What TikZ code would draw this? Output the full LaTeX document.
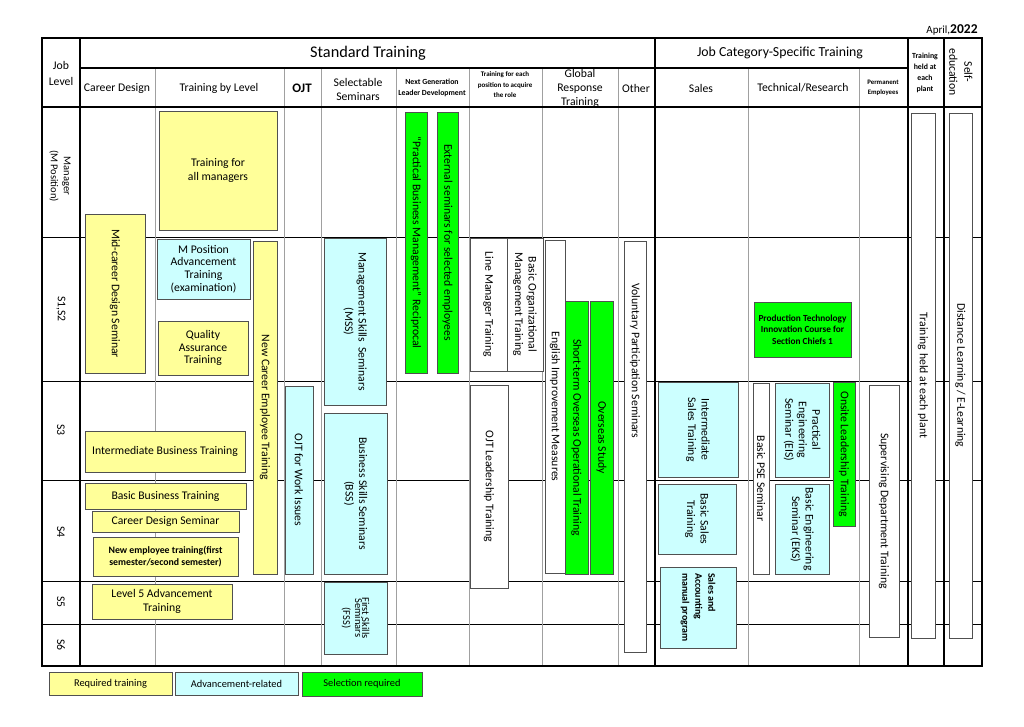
\documentclass[tikz,border=0pt]{standalone}
\usepackage{fontspec}
\setmainfont{Carlito}
\definecolor{reqfill}{HTML}{FFFF99}
\definecolor{advfill}{HTML}{CCFFFF}
\definecolor{selfill}{HTML}{00FF00}
\definecolor{gridgray}{HTML}{A0A0A0}
\definecolor{boxline}{HTML}{505050}
\begin{document}
\begin{tikzpicture}
    [x=1pt,y=-1pt,
     every node/.style={font=\fontsize{11.7}{13.5}\selectfont,inner sep=1pt,align=center},
     hbox/.style 2 args={draw=boxline,line width=.8pt,minimum width=#1,minimum height=#2},
     vbox/.style 2 args={draw=boxline,line width=.8pt,rotate=-90,minimum width=#2,minimum height=#1},
     req/.style={fill=reqfill},
     adv/.style={fill=advfill},
     sel/.style={fill=selfill},
     open/.style={fill=white},
     frame/.style={line width=1.5pt},
     rowline/.style={line width=1pt},
     gridline/.style={gridgray,line width=1pt}]
    \useasboundingbox (0,0) rectangle (1024,726);
    % grid
    \foreach \y in {237,381,480,581,624}
      \draw[rowline] (42,\y) -- (982,\y);
    \foreach \x in {155,284,321,396,469,542,618,748,859}
      \draw[gridline] (\x,68) -- (\x,666);
    \foreach \x in {80,655,908,944}
      \draw[frame] (\x,38) -- (\x,666);
    \draw[frame] (80,68) -- (908,68);
    \draw[frame] (42,107) -- (982,107);
    \draw[frame] (42,38) rectangle (982,666);
    % headers
    \node (date) at (952,30) {\fontsize{11}{12}\selectfont April,\fontsize{13.5}{14}\selectfont\bfseries 2022};
    \node (joblevel) at (61,73) [font=\fontsize{11.7}{16}\selectfont] {Job\\Level};
    \node (standard) at (368,53) [font=\fontsize{16.3}{18}\selectfont] {Standard Training};
    \node (jobcat) at (780,53) [font=\fontsize{13.8}{16}\selectfont] {Job Category-Specific Training};
    \node (career) at (117,88) {Career Design};
    \node (bylevel) at (219,88) {Training by Level};
    \node (ojt) at (302,88) [font=\fontsize{13}{14}\selectfont\bfseries] {OJT};
    \node (selectable) at (358,89) [font=\fontsize{11.7}{14}\selectfont] {Selectable\\Seminars};
    \node (nextgen) at (432,88) [font=\fontsize{7.8}{11}\selectfont\bfseries] {Next Generation\\Leader Development};
    \node (eachpos) at (505,85) [font=\fontsize{7}{10.5}\selectfont\bfseries] {Training for each\\position to acquire\\the role};
    \node (global) at (580,88) [font=\fontsize{11.7}{14}\selectfont] {Global\\Response\\Training};
    \node (other) at (636,88) {Other};
    \node (sales) at (701,88) {Sales};
    \node (tech) at (803,88) {Technical/Research};
    \node (perm) at (883,88) [font=\fontsize{6.8}{10}\selectfont\bfseries] {Permanent\\Employees};
    \node (planthead) at (925,73) [font=\fontsize{7.8}{11}\selectfont\bfseries] {Training\\held at\\each\\plant};
    \node (selfedu) at (961,72) [rotate=-90,font=\fontsize{11.7}{15}\selectfont] {Self-\\education};
    % job levels
    \node (lvmgr) at (60,176) [rotate=-90,font=\fontsize{10.5}{13}\selectfont] {Manager\\(M Position)};
    \node (lvs12) at (61,309) [rotate=-90] {S1,S2};
    \node (lvs3) at (61,430) [rotate=-90] {S3};
    \node (lvs4) at (61,532) [rotate=-90] {S4};
    \node (lvs5) at (61,602) [rotate=-90] {S5};
    \node (lvs6) at (61,645) [rotate=-90] {S6};
    % career design and training by level
    \node[vbox={60}{159},req] (midcareer) at (115,293.5) {Mid-career Design Seminar};
    \node[hbox={118}{119},req] (allmgr) at (218,170.5) {Training for\\all managers};
    \node[hbox={93}{60},adv,font=\fontsize{11.7}{12.7}\selectfont] (madv) at (203.5,269) {M Position\\Advancement\\Training\\(examination)};
    \node[hbox={90}{54},req,font=\fontsize{11.7}{12.7}\selectfont] (quality) at (203,348) {Quality\\Assurance\\Training};
    \node[vbox={24}{333},req] (newcareer) at (265,407.5) {New Career Employee Training};
    \node[hbox={160}{41},req] (interbiz) at (165,451.5) {Intermediate Business Training};
    \node[hbox={161}{26},req] (basicbiz) at (165.5,496) {Basic Business Training};
    \node[hbox={147}{21},req] (cdsem) at (165.5,521.5) {Career Design Seminar};
    \node[hbox={145}{39},req,font=\fontsize{9.8}{12.5}\selectfont\bfseries] (newemp) at (165.5,556.5) {New employee training(first\\semester/second semester)};
    \node[hbox={140}{35},req] (level5) at (162,601.5) {Level 5 Advancement\\Training};
    % OJT and seminars
    \node[vbox={28}{188},adv] (ojtwork) at (299,480) {OJT for Work Issues};
    \node[vbox={62}{167},adv] (mss) at (355,321.5) {Management Skills~~Seminars\\(MSS)};
    \node[vbox={63}{161},adv] (bss) at (355.5,493.5) {Business Skills Seminars\\(BSS)};
    \node[vbox={63}{72},adv,font=\fontsize{10.5}{12}\selectfont] (fss) at (355.5,618) {First Skills\\[-5pt]Seminars\\(FSS)};
    % next generation
    \node[vbox={22}{261},sel] (reciprocal) at (416,242.5) {“Practical Business Management” Reciprocal};
    \node[vbox={21}{261},sel] (external) at (447.5,242.5) {External seminars for selected employees};
    % each position
    \node[vbox={37}{133},open] (linemgr) at (488.5,304.5) {Line Manager Training};
    \node[vbox={36}{133},open] (basicorg) at (525,304.5) {Basic Organizational\\Management Training};
    \node[vbox={38}{203},open] (ojtlead) at (489,486.5) {OJT Leadership Training};
    % global and other
    \node[vbox={20}{333},open] (english) at (555,406.5) {English Improvement Measures};
    \node[vbox={23}{273},sel] (shortterm) at (576.5,437.5) {Short-term Overseas Operational Training};
    \node[vbox={23}{273},sel] (ovstudy) at (601.5,437.5) {Overseas Study};
    \node[vbox={22}{411},open] (voluntary) at (635,446.5) {};
    \node[rotate=-90] (voluntarytext) at (635,361) {Voluntary Participation Seminars};
    % job category
    \node[vbox={80}{95},adv] (intsales) at (698,429.5) {Intermediate\\Sales Training};
    \node[vbox={78}{70},adv] (basicsales) at (697,519) {Basic Sales\\Training};
    \node[vbox={76}{81},adv,align=left,font=\fontsize{10}{13}\selectfont\bfseries] (salesacc) at (698,607.5) {Sales and\\Accounting\\manual program};
    \node[hbox={97}{55},sel,font=\fontsize{9.3}{11.5}\selectfont\bfseries] (ptic) at (802.5,329.5) {Production Technology\\Innovation Course for\\Section Chiefs 1};
    \node[vbox={16}{191},open] (pse) at (761,478.5) {Basic PSE Seminar};
    \node[vbox={54}{94},adv] (eis) at (802,430) {Practical\\Engineering\\Seminar (EIS)};
    \node[vbox={54}{90},adv] (eks) at (802,529) {Basic Engineering\\Seminar (EKS)};
    \node[vbox={22}{144},sel] (onsite) at (844,454) {Onsite Leadership Training};
    \node[vbox={30}{252},open] (supervising) at (884,511) {Supervising Department Training};
    % plant and self-education
    \node[vbox={24}{525},open] (plant) at (923,375.5) {Training held at each plant};
    \node[vbox={23}{525},open] (distance) at (960.5,375.5) {Distance Learning / E-Learning};
    % legend
    \node[hbox={123}{23},req,font=\fontsize{10.4}{12}\selectfont] (legreq) at (110.5,683.5) {Required training};
    \node[hbox={123}{23},adv,font=\fontsize{10.4}{12}\selectfont] (legadv) at (236.5,683.5) {Advancement-related};
    \node[hbox={120}{24},sel,font=\fontsize{10.4}{12}\selectfont] (legsel) at (362,684) {Selection required};
\end{tikzpicture}
\end{document}
